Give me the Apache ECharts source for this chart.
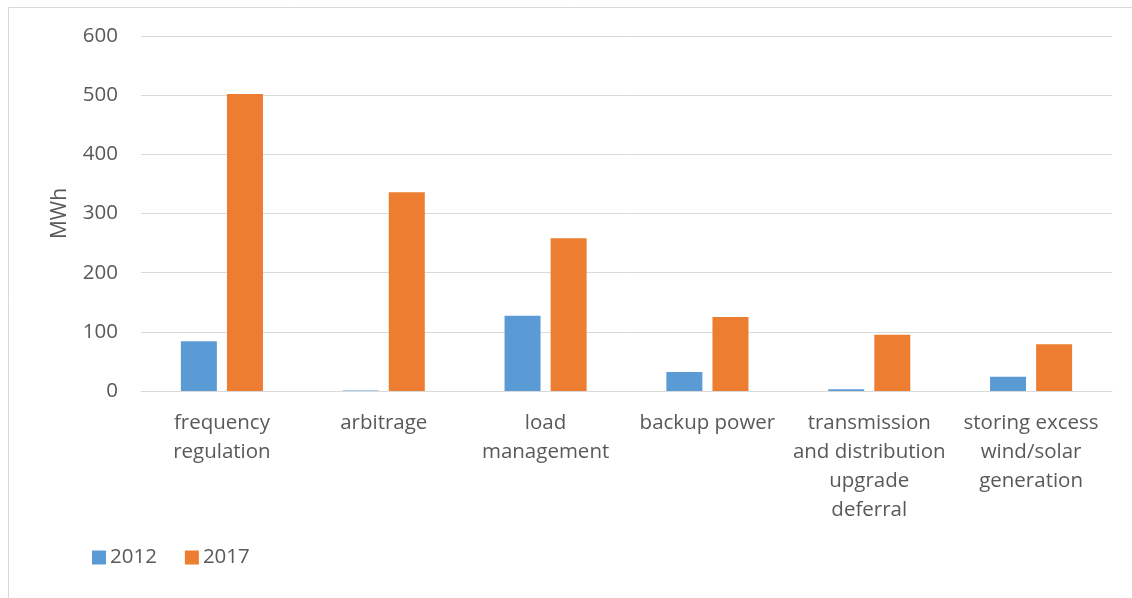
<!DOCTYPE html>
<html>
<head>
<meta charset="utf-8">
<script src="https://cdn.jsdelivr.net/npm/echarts@6/dist/echarts.min.js"></script>
<style>html,body{margin:0;padding:0;background:#fff;}#c{width:1132px;height:598px;}</style>
</head>
<body>
<div id="c"></div>
<script>
const categories = ["frequency\nregulation", "arbitrage", "load\nmanagement", "backup power", "transmission\nand distribution\nupgrade\ndeferral", "storing excess\nwind/solar\ngeneration"];
const values2012 = [84, 1, 127, 32, 3, 24];
const values2017 = [502, 336, 258, 125, 95, 79];
const yTicks = [0, 100, 200, 300, 400, 500, 600];
const seriesNames = ["2012", "2017"];

const font = "'Open Sans', 'Liberation Sans', sans-serif";
const chart = echarts.init(document.getElementById('c'), null, {renderer: 'canvas'});
chart.setOption({
  animation: false,
  backgroundColor: '#fff',
  graphic: [{
    type: 'rect', silent: true, z: -1,
    shape: {x: 8.5, y: 7.5, width: 1140, height: 600},
    style: {fill: 'none', stroke: '#d9d9d9', lineWidth: 1}
  }],
  grid: {left: 141, right: 20, top: 36, bottom: 207, containLabel: false},
  legend: {
    data: seriesNames, left: 87, top: 542,
    itemWidth: 14, itemHeight: 14, itemGap: 28,
    icon: 'rect',
    textStyle: {color: '#595959', fontSize: 20.5, fontFamily: font, padding: [0, 0, 0, -1]}
  },
  xAxis: {
    type: 'category', data: categories,
    axisLine: {show: true, lineStyle: {color: '#d9d9d9', width: 1}},
    axisTick: {show: false},
    axisLabel: {color: '#595959', fontSize: 20.5, fontFamily: font, lineHeight: 29, margin: 18, interval: 0}
  },
  yAxis: {
    type: 'value', min: 0, max: 600, interval: 100,
    name: 'MWh', nameLocation: 'middle', nameGap: 70, nameRotate: 90,
    nameTextStyle: {color: '#595959', fontSize: 21, fontFamily: font},
    axisLine: {show: false}, axisTick: {show: false},
    axisLabel: {color: '#595959', fontSize: 20.5, fontFamily: font, margin: 23,
      formatter: v => yTicks.includes(v) ? String(v) : ''},
    splitLine: {lineStyle: {color: '#d9d9d9', width: 1}}
  },
  series: [
    {name: seriesNames[0], type: 'bar', data: values2012, barWidth: 36, barGap: '28%',
     itemStyle: {color: '#5b9bd5'}},
    {name: seriesNames[1], type: 'bar', data: values2017, barWidth: 36, barGap: '28%',
     itemStyle: {color: '#ed7d31'}}
  ]
});
</script>
</body>
</html>
